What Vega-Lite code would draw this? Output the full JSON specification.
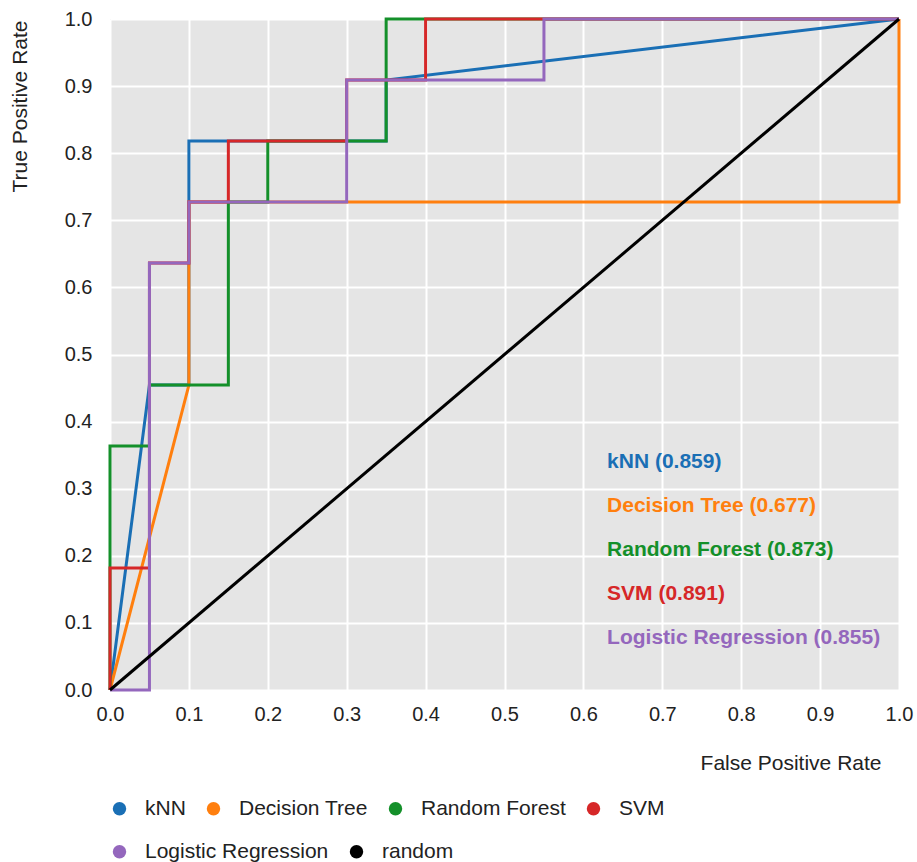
{
  "$schema": "https://vega.github.io/schema/vega-lite/v6.json",
  "autosize": "none",
  "padding": {"left": 110, "top": 19, "right": 18, "bottom": 172},
  "width": 789,
  "height": 671,
  "background": "white",
  "config": {
    "font": "Liberation Sans",
    "view": {"fill": "#e5e5e5", "stroke": null},
    "axis": {
      "domain": false,
      "ticks": false,
      "grid": true,
      "gridColor": "#ffffff",
      "gridWidth": 2,
      "labelFlush": false,
      "labelFont": "Liberation Sans",
      "labelFontSize": 20,
      "labelColor": "#222222",
      "titleFont": "Liberation Sans",
      "titleFontSize": 21,
      "titleFontWeight": "normal",
      "titleColor": "#222222"
    },
    "legend": {
      "orient": "none",
      "title": null,
      "direction": "horizontal",
      "columnPadding": 17,
      "padding": 0,
      "symbolType": "circle",
      "symbolSize": 180,
      "symbolStrokeWidth": 0,
      "symbolOpacity": 1,
      "labelOffset": 15,
      "labelFont": "Liberation Sans",
      "labelFontSize": 21,
      "labelColor": "#222222",
      "labelLimit": 400
    }
  },
  "datasets": {
    "roc": [
      {"model": "kNN", "i": 0, "fpr": 0.0, "tpr": 0.0},
      {"model": "kNN", "i": 1, "fpr": 0.05, "tpr": 0.4545},
      {"model": "kNN", "i": 2, "fpr": 0.1, "tpr": 0.4545},
      {"model": "kNN", "i": 3, "fpr": 0.1, "tpr": 0.8182},
      {"model": "kNN", "i": 4, "fpr": 0.35, "tpr": 0.8182},
      {"model": "kNN", "i": 5, "fpr": 0.35, "tpr": 0.9091},
      {"model": "kNN", "i": 6, "fpr": 1.0, "tpr": 1.0},
      {"model": "Decision Tree", "i": 0, "fpr": 0.0, "tpr": 0.0},
      {"model": "Decision Tree", "i": 1, "fpr": 0.1, "tpr": 0.4545},
      {"model": "Decision Tree", "i": 2, "fpr": 0.1, "tpr": 0.7273},
      {"model": "Decision Tree", "i": 3, "fpr": 1.0, "tpr": 0.7273},
      {"model": "Decision Tree", "i": 4, "fpr": 1.0, "tpr": 1.0},
      {"model": "Random Forest", "i": 0, "fpr": 0.0, "tpr": 0.0},
      {"model": "Random Forest", "i": 1, "fpr": 0.0, "tpr": 0.3636},
      {"model": "Random Forest", "i": 2, "fpr": 0.05, "tpr": 0.3636},
      {"model": "Random Forest", "i": 3, "fpr": 0.05, "tpr": 0.4545},
      {"model": "Random Forest", "i": 4, "fpr": 0.15, "tpr": 0.4545},
      {"model": "Random Forest", "i": 5, "fpr": 0.15, "tpr": 0.7273},
      {"model": "Random Forest", "i": 6, "fpr": 0.2, "tpr": 0.7273},
      {"model": "Random Forest", "i": 7, "fpr": 0.2, "tpr": 0.8182},
      {"model": "Random Forest", "i": 8, "fpr": 0.35, "tpr": 0.8182},
      {"model": "Random Forest", "i": 9, "fpr": 0.35, "tpr": 1.0},
      {"model": "Random Forest", "i": 10, "fpr": 1.0, "tpr": 1.0},
      {"model": "SVM", "i": 0, "fpr": 0.0, "tpr": 0.0},
      {"model": "SVM", "i": 1, "fpr": 0.0, "tpr": 0.1818},
      {"model": "SVM", "i": 2, "fpr": 0.05, "tpr": 0.1818},
      {"model": "SVM", "i": 3, "fpr": 0.05, "tpr": 0.6364},
      {"model": "SVM", "i": 4, "fpr": 0.1, "tpr": 0.6364},
      {"model": "SVM", "i": 5, "fpr": 0.1, "tpr": 0.7273},
      {"model": "SVM", "i": 6, "fpr": 0.15, "tpr": 0.7273},
      {"model": "SVM", "i": 7, "fpr": 0.15, "tpr": 0.8182},
      {"model": "SVM", "i": 8, "fpr": 0.3, "tpr": 0.8182},
      {"model": "SVM", "i": 9, "fpr": 0.3, "tpr": 0.9091},
      {"model": "SVM", "i": 10, "fpr": 0.4, "tpr": 0.9091},
      {"model": "SVM", "i": 11, "fpr": 0.4, "tpr": 1.0},
      {"model": "SVM", "i": 12, "fpr": 1.0, "tpr": 1.0},
      {"model": "Logistic Regression", "i": 0, "fpr": 0.0, "tpr": 0.0},
      {"model": "Logistic Regression", "i": 1, "fpr": 0.05, "tpr": 0.0},
      {"model": "Logistic Regression", "i": 2, "fpr": 0.05, "tpr": 0.6364},
      {"model": "Logistic Regression", "i": 3, "fpr": 0.1, "tpr": 0.6364},
      {"model": "Logistic Regression", "i": 4, "fpr": 0.1, "tpr": 0.7273},
      {"model": "Logistic Regression", "i": 5, "fpr": 0.3, "tpr": 0.7273},
      {"model": "Logistic Regression", "i": 6, "fpr": 0.3, "tpr": 0.9091},
      {"model": "Logistic Regression", "i": 7, "fpr": 0.55, "tpr": 0.9091},
      {"model": "Logistic Regression", "i": 8, "fpr": 0.55, "tpr": 1.0},
      {"model": "Logistic Regression", "i": 9, "fpr": 1.0, "tpr": 1.0},
      {"model": "random", "i": 0, "fpr": 0.0, "tpr": 0.0},
      {"model": "random", "i": 1, "fpr": 1.0, "tpr": 1.0}
    ],
    "notes": [
      {"model": "kNN", "label": "kNN (0.859)", "fpr": 0.63, "tpr": 0.34},
      {"model": "Decision Tree", "label": "Decision Tree (0.677)", "fpr": 0.63, "tpr": 0.274},
      {"model": "Random Forest", "label": "Random Forest (0.873)", "fpr": 0.63, "tpr": 0.209},
      {"model": "SVM", "label": "SVM (0.891)", "fpr": 0.63, "tpr": 0.143},
      {"model": "Logistic Regression", "label": "Logistic Regression (0.855)", "fpr": 0.63, "tpr": 0.077}
    ]
  },
  "layer": [
    {
      "data": {"name": "roc"},
      "mark": {"type": "line", "strokeWidth": 3, "interpolate": "linear"},
      "encoding": {
        "x": {
          "field": "fpr", "type": "quantitative",
          "scale": {"domain": [0, 1], "nice": false, "zero": false},
          "axis": {
            "values": [0, 0.1, 0.2, 0.3, 0.4, 0.5, 0.6, 0.7, 0.8, 0.9, 1.0],
            "format": ".1f",
            "labelPadding": 14,
            "title": "False Positive Rate",
            "titleAnchor": "end",
            "titleAlign": "right",
            "titleBaseline": "middle",
            "titleX": 771,
            "titleY": 73
          }
        },
        "y": {
          "field": "tpr", "type": "quantitative",
          "scale": {"domain": [0, 1], "nice": false, "zero": false},
          "axis": {
            "values": [0, 0.1, 0.2, 0.3, 0.4, 0.5, 0.6, 0.7, 0.8, 0.9, 1.0],
            "format": ".1f",
            "labelPadding": 18,
            "title": "True Positive Rate",
            "titleAngle": 270,
            "titleAlign": "right",
            "titleBaseline": "middle",
            "titleX": -90,
            "titleY": 1
          }
        },
        "color": {
          "field": "model", "type": "nominal",
          "scale": {
            "domain": ["kNN", "Decision Tree", "Random Forest", "SVM", "Logistic Regression", "random"],
            "range": ["#1a6fb5", "#ff7f0e", "#14902a", "#d62728", "#9467bd", "#000000"]
          },
          "legend": {
            "values": ["kNN", "Decision Tree", "Random Forest", "SVM"],
            "legendX": -1,
            "legendY": 779,
            "encode": {
              "symbols": {"update": {"fill": {"scale": "color", "field": "value"}, "opacity": {"value": 1}}}
            }
          }
        },
        "order": {"field": "i", "type": "quantitative"}
      }
    },
    {
      "data": {"name": "notes"},
      "mark": {"type": "text", "align": "left", "baseline": "middle", "fontSize": 21, "fontWeight": "bold", "font": "Liberation Sans"},
      "encoding": {
        "x": {"field": "fpr", "type": "quantitative"},
        "y": {"field": "tpr", "type": "quantitative"},
        "text": {"field": "label", "type": "nominal"},
        "fill": {
          "field": "model", "type": "nominal",
          "scale": {
            "domain": ["Logistic Regression", "random", "kNN", "Decision Tree", "Random Forest", "SVM"],
            "range": ["#9467bd", "#000000", "#1a6fb5", "#ff7f0e", "#14902a", "#d62728"]
          },
          "legend": {
            "values": ["Logistic Regression", "random"],
            "legendX": -1,
            "legendY": 822,
            "encode": {
              "symbols": {"update": {"fill": {"scale": "fill", "field": "value"}, "opacity": {"value": 1}}}
            }
          }
        }
      }
    }
  ]
}
